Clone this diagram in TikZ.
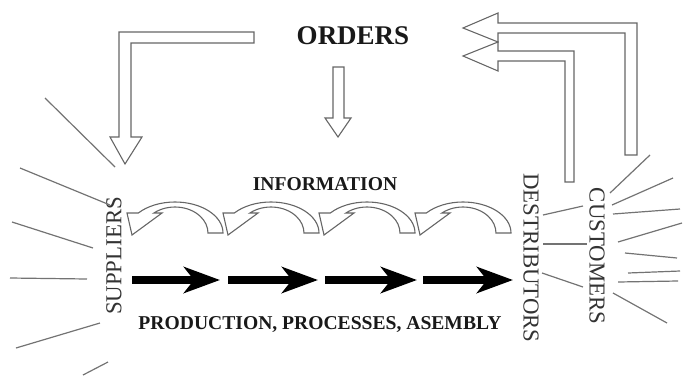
\documentclass[tikz,border=0pt]{standalone}
\usepackage{fontspec}
\setmainfont{Liberation Serif}
\usetikzlibrary{arrows.meta}
\begin{document}
\begin{tikzpicture}[x=1pt, y=1pt,
    blockarrow/.style={draw=black!60, line width=1.1pt},
    sunray/.style={draw=black!55, line width=1.2pt},
    flowtext/.style={font=\fontsize{19.6}{20}\selectfont\bfseries, text=black!90, inner sep=0pt, text depth=0pt},
    party/.style={font=\fontsize{22.8}{23}\selectfont, text=black!80, inner sep=0pt},
    prodarrow/.style={line width=8pt, -{Stealth[length=36pt, width=26pt, inset=10pt]}}]
    \useasboundingbox (0,0) rectangle (687,-375);
    \def\outrx{48}\def\outry{31}
    \def\inrx{33}\def\inry{26}

    \node[flowtext, font=\fontsize{27}{28}\selectfont\bfseries] (orders) at (353,-36) {ORDERS};
    \node[flowtext] (info) at (325,-184) {INFORMATION};
    \node[flowtext] (prod) at (320,-323) {PRODUCTION, PROCESSES, ASEMBLY};
    \node[party, rotate=90] (sup) at (114,-256) {SUPPLIERS};
    \node[party, rotate=-90] (dist) at (531,-258) {DESTRIBUTORS};
    \node[party, rotate=-90] (cust) at (597,-256) {CUSTOMERS};

    \draw[blockarrow] (254,-32) -- (119,-32) -- (119,-137) -- (110,-137) -- (125,-164) -- (142,-137) -- (131,-137) -- (131,-43) -- (254,-43) -- cycle;
    \draw[blockarrow] (333,-67) -- (333,-118) -- (325,-118) -- (338,-137) -- (351,-118) -- (344,-118) -- (344,-67) -- cycle;
    \draw[blockarrow] (625,-155) -- (625,-33) -- (498,-33) -- (498,-42) -- (463,-28) -- (498,-13) -- (498,-23) -- (637,-23) -- (637,-155) -- cycle;
    \draw[blockarrow] (565,-182) -- (565,-61) -- (498,-61) -- (498,-71) -- (463,-56) -- (498,-42) -- (498,-51) -- (574,-51) -- (574,-182) -- cycle;

    \foreach \cx in {175,271,367,463}
        \draw[blockarrow] (\cx+\outrx,-233) arc[start angle=0, end angle=139.8, x radius=\outrx, y radius=\outry]
            -- (\cx-48,-213) -- (\cx-43,-235) -- (\cx-13,-213) -- (\cx-21.1,-213)
            arc[start angle=129.7, end angle=0, x radius=\inrx, y radius=\inry] -- cycle;

    \foreach \i/\a/\b in {1/132/220, 2/228/318, 3/325/417, 4/423/513} {
        \coordinate (s\i) at (\a,-280);
        \coordinate (e\i) at (\b,-280);
        \draw[prodarrow] (s\i) -- (e\i);
    }

    \foreach \a/\b/\c/\d in {45/98/115/167, 20/168/110/205, 12/222/93/248, 10/278/87/279, 16/348/100/323, 83/375/108/362,
        650/155/610/193, 673/178/612/205, 680/209/613/214, 682/223/618/242, 677/258/625/253, 680/271/628/273, 678/281/618/282, 667/323/613/293,
        543/215/583/206, 543/244/587/244, 542/273/583/287}
        \draw[sunray] (\a,-\b) -- (\c,-\d);

\end{tikzpicture}
\end{document}
